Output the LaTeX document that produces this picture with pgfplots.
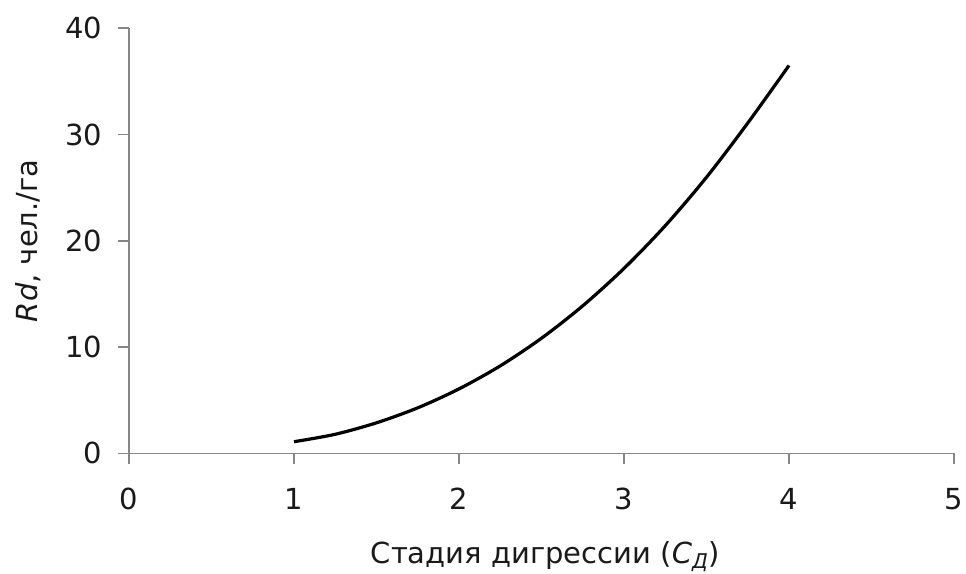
\documentclass[border=0pt]{standalone}
\usepackage{fontspec}
\setmainfont{DejaVu Sans}
\usepackage{pgfplots}
\pgfplotsset{compat=1.18}
\definecolor{axgray}{HTML}{868686}
\definecolor{txt}{HTML}{1A1A1A}
\begin{document}
\fontsize{14.5pt}{17pt}\selectfont
\begin{tikzpicture}
\useasboundingbox (-64.5pt,-60.35pt) rectangle (418.5pt,226.65pt);
\begin{axis}[
  at={(0pt,0pt)}, anchor=south west,
  scale only axis, width=412.5pt, height=212.5pt,
  xmin=0, xmax=5, ymin=0, ymax=40,
  xtick={0,1,2,3,4,5}, ytick={0,10,20,30,40},
  axis x line*=bottom, axis y line*=left,
  axis line style={-, draw=axgray, line width=0.8pt},
  tick style={draw=axgray, line width=0.8pt},
  tick align=outside, major tick length=5.5pt,
  /pgf/number format/assume math mode=true,
  ticklabel style={font=\fontsize{14.5pt}{17pt}\selectfont, text=txt},
  xticklabel style={anchor=base, yshift=-28pt+5.5pt},
  yticklabel style={anchor=east, xshift=-3pt},
  xlabel={Стадия дигрессии (\textit{C}\textsubscript{\textit{Д}})},
  ylabel={\textit{Rd}, чел./га},
  label style={font=\fontsize{14.5pt}{17pt}\selectfont, text=txt},
  xlabel style={at={(axis description cs:0.5,0)}, anchor=center, yshift=-51.5pt, xshift=2pt},
  ylabel style={at={(axis description cs:0,0.5)}, anchor=center, rotate=0, yshift=50.5pt},
  clip=false,
]
\addplot[black, line width=1.6pt, smooth] coordinates {
(1.00,1.09) (1.25,1.79) (1.50,2.87) (1.75,4.28) (2.00,6.06) (2.25,8.23)
(2.50,10.83) (2.75,13.88) (3.00,17.40) (3.25,21.42) (3.50,25.98)
(3.75,31.08) (4.00,36.5)
};
\end{axis}
\end{tikzpicture}
\end{document}
